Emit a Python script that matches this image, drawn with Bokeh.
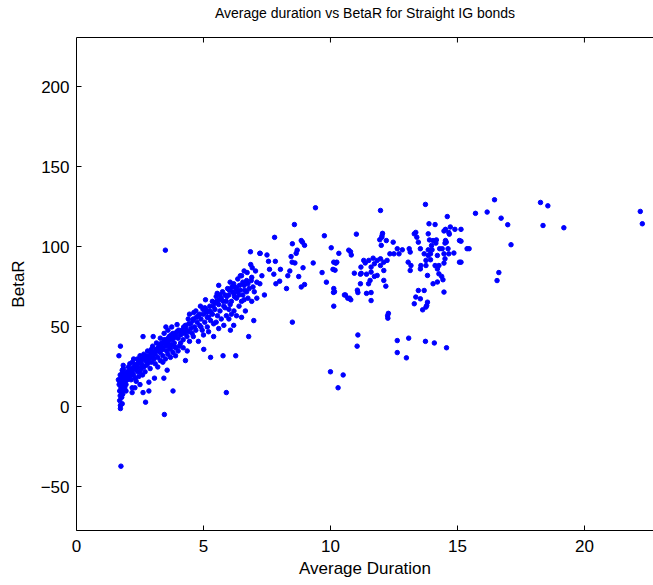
from bokeh.plotting import figure
from bokeh.models import Range1d, FixedTicker, LinearAxis
from bokeh.embed import file_html
from bokeh.resources import INLINE

FONT = "Liberation Sans"

title_text = "Average duration vs BetaR for Straight IG bonds"
x_ticks = [0, 5, 10, 15, 20]
y_ticks = [-50, 0, 50, 100, 150, 200]

# Region: short durations (x 1.6 - 2.1)
dur_a = [1.75, 1.73, 1.67, 1.84, 1.70, 1.73, 1.73, 1.80, 1.78, 1.82, 1.70, 1.75, 1.80, 1.85, 1.70, 1.78,
         1.90, 1.95, 1.72, 1.80, 1.88, 1.92, 2.00, 2.05, 1.75, 1.83, 1.90, 1.68, 1.65, 1.77, 1.85, 1.72,
         1.95, 2.00, 1.80, 1.85, 1.90, 1.76, 1.82, 1.95, 2.10, 2.10]
beta_a = [-37, 38, 32, 26, 4, 1, -1, 2, 6, 8, 10, 12, 14, 15, 16, 17,
          18, 19, 20, 21, 13, 16, 17, 20, 18, 19, 21, 14, 17, 9, 11, 7,
          14, 22, 23, 24, 12, 15, 16, 10, 19, 23]

# Region: x 2 - 3
dur_b = [2.15, 2.20, 2.25, 2.30, 2.35, 2.40, 2.45, 2.50, 2.55, 2.60, 2.65, 2.70, 2.75, 2.80, 2.85, 2.90,
         2.95, 3.00, 2.20, 2.30, 2.40, 2.50, 2.60, 2.70, 2.80, 2.90, 2.19, 2.19, 2.62, 2.72, 2.85, 2.85,
         2.62, 3.02, 2.35, 2.50, 2.25, 2.45, 2.55, 2.65, 2.75, 2.95, 2.30, 2.15]
beta_b = [22, 24, 20, 26, 23, 25, 28, 22, 27, 30, 25, 29, 32, 27, 30, 33,
          28, 31, 28, 18, 30, 32, 20, 22, 35, 24, 12, 9, 9, 3, 10, 15.5,
          44, 44, 16, 14, 30, 19, 24, 33, 26, 36, 12, 17]

# Region: x 3 - 4.5
dur_c = [3.05, 3.10, 3.15, 3.20, 3.25, 3.30, 3.35, 3.40, 3.45, 3.50, 3.55, 3.60, 3.65, 3.70, 3.75, 3.80,
         3.85, 3.90, 3.95, 4.00, 4.05, 4.10, 4.15, 4.20, 4.25, 4.30, 4.35, 4.40, 4.45, 4.50, 3.10, 3.20,
         3.30, 3.40, 3.50, 3.60, 3.70, 3.80, 3.90, 4.00, 3.15, 3.30, 3.45, 3.60, 3.75, 3.52, 3.96, 4.29,
         4.36, 4.29, 3.57, 3.44, 3.07, 3.80, 3.46, 3.50, 3.25, 3.35, 3.55, 3.65, 3.85, 4.10, 4.20, 3.00,
         3.40, 3.70, 3.90]
beta_c = [30, 33, 36, 31, 38, 34, 40, 36, 42, 38, 35, 41, 44, 39, 42, 46,
          40, 44, 47, 43, 38, 45, 48, 42, 46, 50, 44, 47, 41, 49, 27, 25,
          29, 32, 30, 33, 36, 34, 37, 35, 40, 43, 46, 48, 50, 50, 51.5, 51,
          35, 29, 23, 18, 18, 10, -4.7, 98, 35, 37, 39, 37, 38, 40, 37, 38,
          28, 31, 32]

# Region: x 4.4 - 7.9
dur_d = [4.50, 4.55, 4.60, 4.62, 4.65, 4.70, 4.75, 4.80, 4.85, 4.88, 4.90, 4.95, 5.00, 5.01, 5.05, 5.08,
         5.10, 5.15, 5.20, 5.25, 5.28, 5.28, 5.30, 5.35, 5.40, 5.45, 5.50, 5.54, 5.55, 5.60, 5.60, 5.65,
         5.70, 5.75, 5.77, 5.80, 5.80, 5.85, 5.90, 5.90, 5.95, 6.00, 6.00, 6.05, 6.06, 6.10, 6.15, 6.19,
         6.19, 6.20, 6.25, 6.27, 6.30, 6.35, 6.40, 6.45, 6.50, 6.50, 6.55, 6.60, 6.65, 6.70, 6.72, 6.75,
         6.78, 6.80, 6.85, 6.86, 6.90, 6.92, 6.98, 7.00, 7.05, 7.10, 7.22, 7.22, 7.23, 7.30, 7.40, 7.50,
         7.56, 7.60, 7.77, 7.80, 7.83, 7.85, 4.60, 4.80, 5.00, 5.20, 5.40, 5.60, 6.00, 6.30, 6.50, 6.10,
         5.90, 5.70, 5.50, 6.40, 6.60, 6.20, 6.90, 7.10, 5.05, 4.70, 4.40, 4.45, 4.90, 5.15, 5.35, 5.45,
         5.65, 5.85, 6.05, 6.30, 6.70, 6.95, 6.60, 6.45]
beta_d = [52, 46, 55, 59, 50, 48, 53, 57, 51, 63, 55, 48, 58, 36, 53, 67,
          61, 50, 56, 63, 54, 31, 59, 66, 52, 61, 69, 71, 57, 76, 64, 60,
          68, 72, 32, 51, 63, 70, 66, 9, 74, 61, 70, 78, 48, 66, 72, 77,
          51, 60, 75, 32, 68, 80, 63, 73, 66, 82, 70, 76, 60, 79, 84, 68,
          44, 74, 97, 89, 81, 87, 54, 72, 85, 78, 96, 77, 96, 82, 70, 95,
          91, 86, 83, 106, 91, 77, 44, 41, 45, 47, 44, 49, 55, 57, 56, 58,
          57, 55, 53, 70, 67, 71, 66, 68, 62, 60, 55, 58, 50, 56, 58, 65,
          70, 62, 64, 74, 72, 75, 85, 82]

# Extra points in the dense band (x 2 - 7)
dur_h = [2.05, 2.10, 2.20, 2.28, 2.38, 2.42, 2.52, 2.58, 2.68, 2.78, 2.88, 2.98,
         3.12, 3.22, 3.32, 3.42, 3.52, 3.62, 3.72, 3.82, 3.92, 4.02, 4.12, 4.22, 4.32, 4.42,
         4.58, 4.72, 4.85, 4.98, 5.12, 5.25, 5.38, 5.52, 5.62, 5.78, 5.92, 6.02, 6.12, 6.22,
         6.34, 6.42, 6.55, 6.62, 6.75, 6.88]
beta_h = [25, 27, 21, 25, 27, 22, 29, 26, 31, 29, 31, 34,
          35, 37, 39, 40, 42, 43, 45, 43, 46, 48, 47, 50, 48, 52,
          54, 56, 58, 61, 59, 60, 63, 66, 67, 66, 69, 73, 75, 69,
          72, 76, 78, 73, 77, 79]

# Region: x 8 - 11
dur_e = [9.41, 8.58, 9.76, 8.50, 8.85, 8.90, 8.98, 8.69, 8.65, 10.03, 10.72, 10.33, 8.45, 8.49, 8.60, 9.32,
         8.92, 8.03, 8.40, 8.32, 8.75, 8.00, 8.27, 8.85, 8.98, 9.67, 10.13, 10.22, 10.10, 10.18, 9.84, 10.13,
         10.16, 10.55, 10.68, 10.13, 8.50, 10.00, 10.30, 10.50]
beta_e = [124.5, 114, 107, 102, 104, 103, 101, 98, 96, 99.5, 98, 96, 94, 90.5, 90, 90,
          87, 86, 85, 82, 81.5, 78.6, 74, 75, 76.5, 84, 90.5, 90, 86, 85.5, 78, 74,
          72, 70, 68, 63, 53, 22, 12, 20]

# Region: x 10.8 - 16.7
dur_f = [11.97, 13.74, 16.46, 16.17, 15.71, 11.02, 12.03, 12.05, 12.02, 11.94, 12.00, 12.20, 12.47, 10.79, 10.82, 10.20,
         10.25, 10.94, 11.18, 11.21, 11.18, 11.06, 11.08, 10.59, 10.75, 10.80, 11.42, 11.60, 11.60, 10.12, 12.25, 12.28,
         12.26, 11.08, 11.05, 12.63, 12.63, 12.99, 13.08, 13.74, 14.09, 14.57,
         11.51, 11.68, 11.84, 11.97, 12.10, 12.23, 12.34, 11.60, 11.73, 11.97, 12.10, 11.56, 11.73, 12.10, 11.60, 11.84,
         12.50, 12.18, 11.50, 11.31, 11.37, 11.20, 11.42,
         12.63, 12.70, 12.83, 13.10, 13.14, 13.06, 13.17, 13.14, 13.36, 13.30, 13.40, 13.46, 13.54, 13.56, 13.54, 13.69,
         13.76, 13.76, 13.82, 13.69, 13.46, 13.36, 13.54, 13.30, 13.63, 13.76, 13.82, 13.79,
         13.88, 14.12, 14.60, 14.47, 14.53, 14.66, 14.72, 14.68, 14.90, 13.85, 13.90, 14.04, 14.17, 14.15, 13.98, 13.85,
         14.00, 14.30, 14.40, 14.53, 14.56, 14.51, 14.63, 14.47, 14.66, 14.86, 14.51, 14.47, 15.08, 15.08, 15.38, 13.94,
         14.21, 13.85, 13.94, 14.12, 14.27, 14.21, 14.27, 14.38, 14.43, 14.21, 14.04, 14.47, 16.63, 16.56]
beta_f = [122.8, 126.6, 129.5, 121.8, 121, 108, 107, 108.5, 106, 104.5, 101, 104, 103, 97, 95, 90,
          90.5, 83.6, 83, 83.5, 77, 73, 71.5, 70, 68, 67, 71, 66.5, 71.5, 71.6, 57, 58.5,
          55.5, 45, 38, 41.5, 34, 30.7, 43, 41, 40, 37,
          91.6, 93, 91.6, 92.6, 90.5, 91.6, 95.7, 87.4, 89.5, 88.4, 85.3, 79.1, 81.6, 79.1, 84.3, 82.2,
          95.7, 75.5, 77, 91.6, 90, 87.4, 83,
          98.9, 95.7, 98.2, 98.9, 96.8, 90.5, 88.4, 85.3, 109.1, 108.2, 106.1, 103, 98.9, 88.4, 86.3, 95.7,
          91.6, 88.4, 82.2, 72.8, 72.8, 68.7, 67.6, 64.5, 60.7, 62.4, 65.5, 63.4,
          114.5, 114, 119, 110, 111, 109, 112.5, 108, 111, 108.2, 104.4, 104, 104.4, 102.4, 100.9, 98.2,
          98.2, 98.9, 98.9, 104, 103, 102.4, 98.9, 95.7, 95.7, 96.2, 92.6, 89.9, 104, 90.5, 98.9, 95.7,
          94.7, 94.7, 92, 88.4, 88.4, 86.3, 83.2, 81.6, 79.5, 78.1, 77, 71.8, 84, 79]

# Region: long durations
dur_g = [16.72, 16.98, 17.11, 18.27, 18.56, 18.37, 19.19, 22.20, 22.28, 15.14, 15.14, 15.46, 15.14]
beta_g = [118, 113.9, 101.4, 127.8, 125.7, 113.4, 112, 122.2, 114.5, 111, 103.6, 98.9, 90.5]

duration = dur_a + dur_b + dur_c + dur_d + dur_h + dur_e + dur_f + dur_g
beta_r = beta_a + beta_b + beta_c + beta_d + beta_h + beta_e + beta_f + beta_g

X0, X1 = 0, 22.72
Y0, Y1 = -77.2, 230.9
PX_PER_Y = 1.6

p = figure(width=653, height=585, output_backend="svg", toolbar_location=None,
           x_range=Range1d(X0, X1), y_range=Range1d(Y0, Y1),
           min_border_left=76, min_border_right=0, min_border_top=37, min_border_bottom=55)
p.outline_line_color = None
p.background_fill_color = "white"
p.border_fill_color = "white"
p.grid.visible = False

bottom = p.below[0]
left = p.left[0]

# top axis: box line only (no tick labels), carrying the title as its label
top = LinearAxis(ticker=FixedTicker(ticks=[]), axis_label=title_text)
top.major_label_standoff = 0
top.axis_label_standoff = 17
p.add_layout(top, "above")

for ax in (bottom, left, top):
    ax.axis_line_color = "black"
    ax.major_tick_in = 5
    ax.major_tick_out = 0
    ax.minor_tick_in = 0
    ax.minor_tick_out = 0
    ax.major_tick_line_color = "black"
    ax.axis_label_text_font = FONT
    ax.axis_label_text_font_style = "normal"
    ax.axis_label_text_color = "black"

for ax in (bottom, left):
    ax.major_label_text_font = FONT
    ax.major_label_text_font_size = "17px"
    ax.major_label_text_color = "black"
    ax.axis_label_text_font_size = "17px"

top.axis_label_text_font_size = "14px"

bottom.ticker = FixedTicker(ticks=x_ticks)
left.ticker = FixedTicker(ticks=y_ticks)
bottom.axis_label = "Average Duration"
left.axis_label = "BetaR"
bottom.major_label_standoff = 9
left.major_label_standoff = 7
bottom.axis_label_standoff = 4
left.axis_label_standoff = 10
left.major_label_overrides = {-50: "\u221250"}

# inward ticks on the top border
tick_len = 5 / PX_PER_Y
p.segment(x0=x_ticks[1:], x1=x_ticks[1:], y0=[Y1] * 4, y1=[Y1 - tick_len] * 4,
          line_color="black", line_width=1)

p.scatter(duration, beta_r, size=4.5, fill_color="#0000ff", line_color="#0000ff")

open("out.html", "w").write(file_html(p, INLINE))
